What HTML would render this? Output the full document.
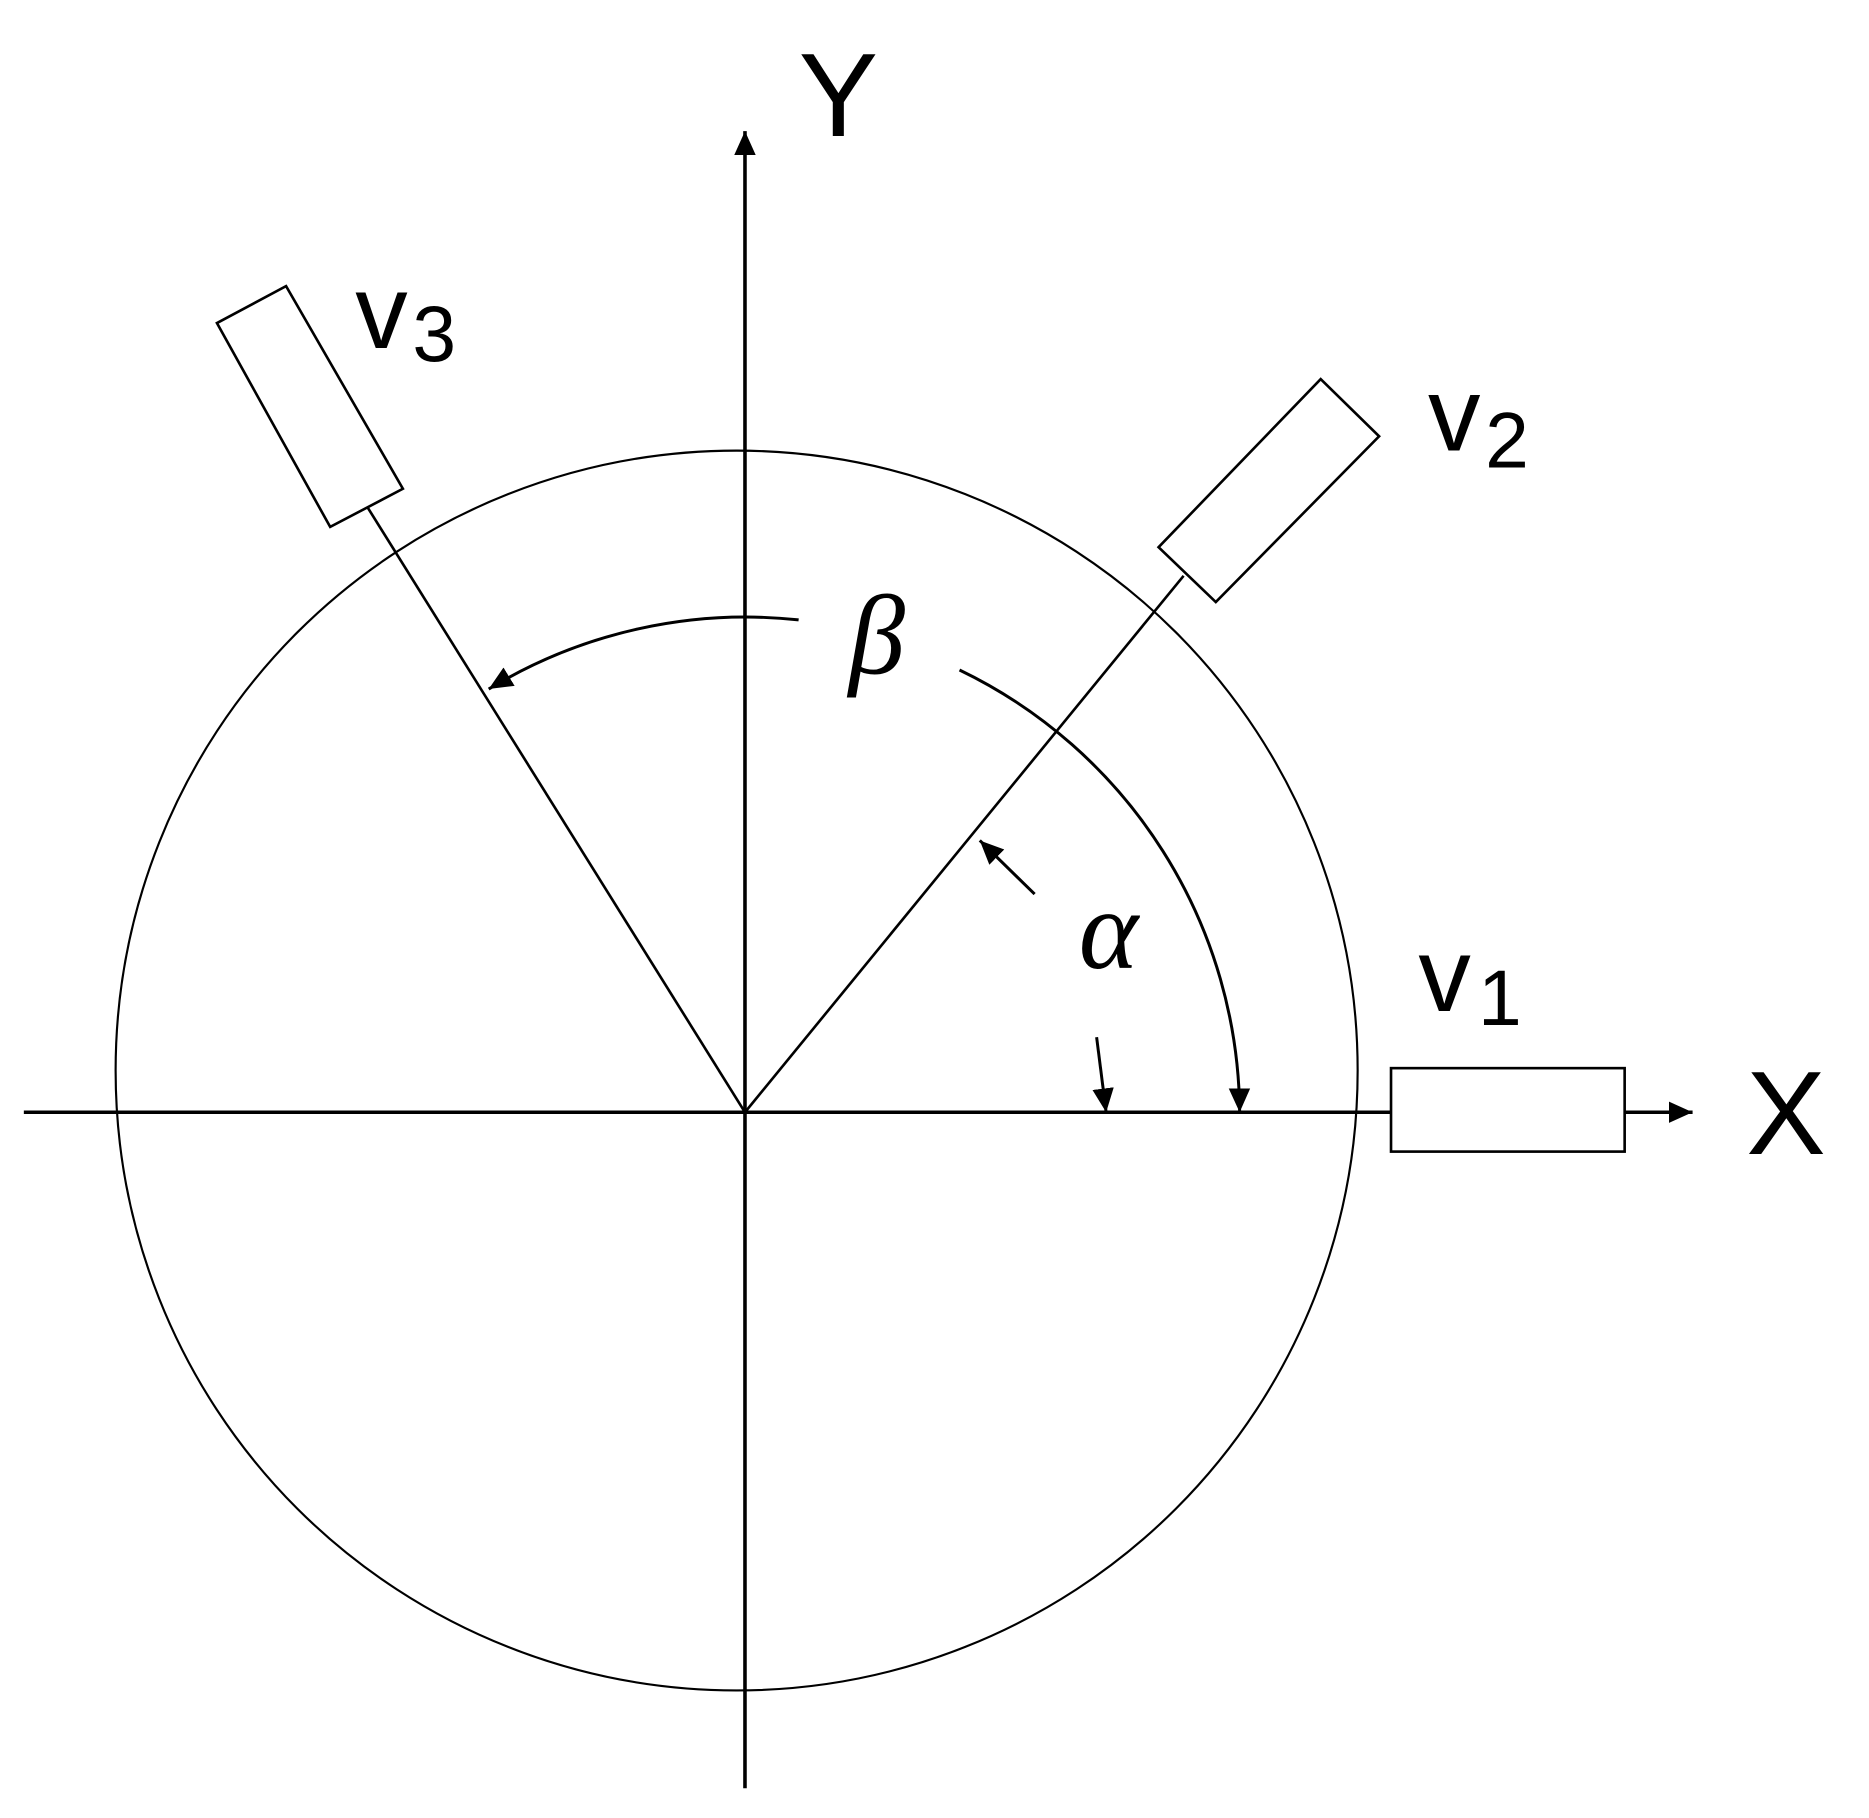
<!DOCTYPE html>
<html><head><style>html,body{margin:0;padding:0;background:#fff}svg{display:block}</style></head>
<body>
<svg width="1869" height="1818" viewBox="0 0 1568 1525" preserveAspectRatio="none" xmlns="http://www.w3.org/2000/svg">
<defs>
<marker id="ah2" viewBox="0 0 10 10" refX="10" refY="5" markerWidth="20" markerHeight="20" markerUnits="userSpaceOnUse" orient="auto">
<path d="M0,0.5 L10,5 L0,9.5 z" fill="#000"/>
</marker>
</defs>
<g stroke="#000" fill="none">
<line x1="20" y1="933" x2="1167" y2="933" stroke-width="3"/>
<line x1="1363" y1="933" x2="1420" y2="933" stroke-width="3" marker-end="url(#ah2)"/>
<line x1="625" y1="1500" x2="625" y2="110" stroke-width="3" marker-end="url(#ah2)"/>
<ellipse cx="618" cy="898" rx="521" ry="520" stroke-width="1.8"/>
<rect x="1167" y="896" width="196" height="70" stroke-width="2.2"/>
<line x1="625" y1="933" x2="993" y2="483" stroke-width="2.2"/>
<polygon points="972,459 1108,318 1157,366 1020,505" stroke-width="2.2"/>
<line x1="625" y1="933" x2="308" y2="425" stroke-width="2.2"/>
<polygon points="182,271 240,240 338,410 277,442" stroke-width="2.2"/>
<path d="M670,520 A415,415 0 0 0 410,578" stroke-width="2.5" marker-end="url(#ah2)"/>
<path d="M805,562 A415,415 0 0 1 1040,933" stroke-width="2.5" marker-end="url(#ah2)"/>
<path d="M868,750 L822,705" stroke-width="2.5" marker-end="url(#ah2)"/>
<path d="M920,870 L928,933" stroke-width="2.5" marker-end="url(#ah2)"/>
</g>
<g font-family="Liberation Sans, sans-serif" fill="#000">
<text x="670" y="114" font-size="100">Y</text>
<text x="1465" y="968" font-size="100">X</text>
<text x="298" y="292" font-size="88">v</text><text x="346" y="303" font-size="66">3</text>
<text x="1198" y="378" font-size="88">v</text><text x="1246" y="392" font-size="66">2</text>
<text x="1190" y="848" font-size="88">v</text><text x="1240" y="860" font-size="66">1</text>
</g>
<g font-family="Liberation Serif, serif" font-style="italic" fill="#000">
<text x="712" y="565" font-size="95">β</text>
<text x="905" y="812" font-size="95">α</text>
</g>
</svg>
</body></html>
